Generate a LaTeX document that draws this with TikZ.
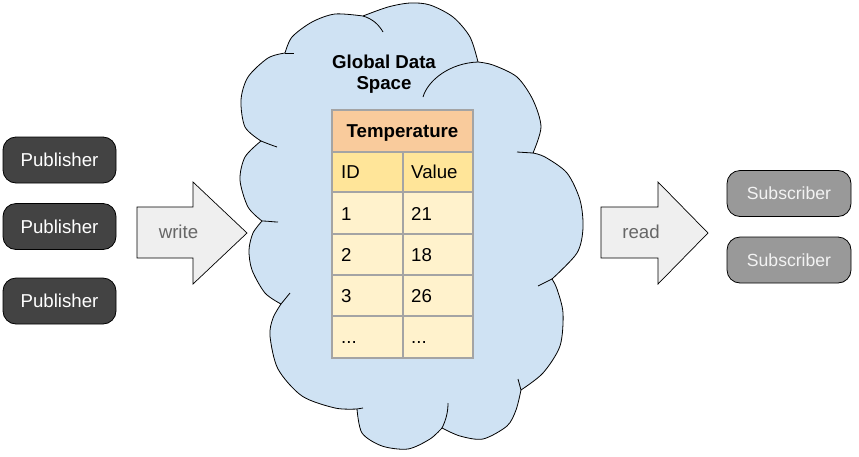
\documentclass[tikz,border=0pt]{standalone}
\usepackage{fontspec}
\setmainfont{Liberation Sans}
\definecolor{pubfill}{HTML}{434343}
\definecolor{subfill}{HTML}{999999}
\definecolor{subtext}{HTML}{F3F3F3}
\definecolor{arrfill}{HTML}{EFEFEF}
\definecolor{arrtext}{HTML}{666666}
\definecolor{cloudfill}{HTML}{CFE2F3}
\definecolor{hdrfill}{HTML}{F9CB9C}
\definecolor{colfill}{HTML}{FFE599}
\definecolor{cellfill}{HTML}{FFF2CC}
\definecolor{gridcol}{HTML}{A4A4A4}
\tikzset{
  pubbox/.style={draw=black, line width=0.8pt, fill=pubfill, rounded corners=13pt,
    minimum width=113pt, minimum height=46pt, inner sep=0pt, text=white,
    font=\fontsize{18.67}{21}\selectfont, text height=13.4pt, text depth=0pt},
  subbox/.style={draw=black, line width=0.8pt, fill=subfill, rounded corners=13pt,
    minimum width=124pt, minimum height=46pt, inner sep=0pt, text=subtext,
    font=\fontsize{17.6}{20}\selectfont, text height=12.6pt, text depth=0pt},
  blockarrow/.style={draw=black, line width=0.7pt, fill=arrfill, line join=miter},
  arrlabel/.style={anchor=base, inner sep=0pt, text=arrtext, font=\fontsize{18.67}{21}\selectfont},
  celltext/.style={anchor=base west, inner sep=0pt, font=\fontsize{18.67}{21}\selectfont},
  cloudline/.style={draw=black, line width=0.8pt},
}
\begin{document}
\begin{tikzpicture}[x=1pt,y=-1pt]
\useasboundingbox (0,0) rectangle (859,456);
\fill[white] (0,0) rectangle (859,456);

% cloud
\path[fill=cloudfill, cloudline, line join=round]
  plot[smooth] coordinates {(285,53) (292,37) (312,22) (335,14) (363,16)}
  -- plot[smooth] coordinates {(363,16) (388,7) (410,3) (430,5) (453,17) (470,37) (478,62)}
  -- plot[smooth] coordinates {(478,62) (493,65) (517,77) (533,100) (541,127) (533,153)}
  -- plot[smooth] coordinates {(533,153) (545,157) (567,173) (580,200) (583,228) (577,253) (552,279)}
  -- plot[smooth] coordinates {(552,279) (557,289) (563,313) (560,346) (543,373) (521,390)}
  -- plot[smooth] coordinates {(521,390) (516,410) (507,426) (483,439) (460,436) (442,428)}
  -- plot[smooth] coordinates {(442,428) (430,439) (408,449) (382,446) (362,433) (357,409)}
  -- plot[smooth] coordinates {(357,409) (335,408) (302,396) (278,369) (270,336) (273,318) (281,304)}
  -- plot[smooth] coordinates {(281,304) (265,293) (252,270) (249,250) (253,233) (262,221)}
  -- plot[smooth] coordinates {(262,221) (248,207) (240,180) (245,157) (261,141)}
  -- plot[smooth] coordinates {(261,141) (245,127) (241,100) (248,77) (268,58) (285,53)}
  -- cycle;
% lobe tails
\draw[cloudline] (285,53) -- (294,53);
\draw[cloudline] (363,16) .. controls (373,19) and (379,25) .. (383,32);
\draw[cloudline] (423,97) .. controls (428,80) and (450,63) .. (478,62);
\draw[cloudline] (517,152) -- (533,153);
\draw[cloudline] (552,279) -- (538,286);
\draw[cloudline] (518,379) -- (521,390);
\draw[cloudline] (448,403) .. controls (448,412) and (446,420) .. (442,428);
\draw[cloudline] (357,409) -- (363,408);
\draw[cloudline] (281,304) -- (290,293);
\draw[cloudline] (262,221) .. controls (268,221) and (273,222) .. (278,222);
\draw[cloudline] (261,141) .. controls (266,143) and (271,145) .. (277,147);

\node[anchor=base, inner sep=0pt, align=center, font=\fontsize{18.67}{21}\selectfont\bfseries] (gds) at (384,89.3) {Global Data\\Space};

% table
\fill[hdrfill] (332,110) rectangle (473,152);
\fill[colfill] (332,152) rectangle (473,192);
\fill[cellfill] (332,192) rectangle (473,358);
\draw[gridcol, line width=1.4pt]
  (332,110) rectangle (473,358)
  (332,152) -- (473,152)
  (332,192) -- (473,192)
  (332,234) -- (473,234)
  (332,275) -- (473,275)
  (332,316) -- (473,316)
  (403,152) -- (403,358);
\node[anchor=base, inner sep=0pt, font=\fontsize{18.67}{21}\selectfont\bfseries] (temp) at (402.5,137) {Temperature};
\node[celltext] (hid) at (341,178.7) {ID};
\node[celltext] (hval) at (411,178.7) {Value};
\node[celltext] (id1) at (341,220) {1};
\node[celltext] (v1) at (411,220) {21};
\node[celltext] (id2) at (341,261) {2};
\node[celltext] (v2) at (411,261) {18};
\node[celltext] (id3) at (341,302) {3};
\node[celltext] (v3) at (411,302) {26};
\node[celltext] (id4) at (341,343.5) {...};
\node[celltext] (v4) at (411,343.5) {...};

% publishers
\node[pubbox] (p1) at (59.5,160) {Publisher};
\node[pubbox] (p2) at (59.5,226.5) {Publisher};
\node[pubbox] (p3) at (59.5,301) {Publisher};

% subscribers
\node[subbox] (s1) at (789,193.5) {Subscriber};
\node[subbox] (s2) at (789,260) {Subscriber};

% write arrow
\coordinate (wtip) at (247,233);
\draw[blockarrow] (137,207) -- (193,207) -- (193,182) -- (wtip) -- (193,284) -- (193,258) -- (137,258) -- cycle;
\node[arrlabel] (wlab) at (178.5,238.5) {write};

% read arrow
\coordinate (rtip) at (708,233);
\draw[blockarrow] (601,207) -- (658,207) -- (658,182) -- (rtip) -- (658,284) -- (658,258) -- (601,258) -- cycle;
\node[arrlabel] (rlab) at (641,238.5) {read};
\end{tikzpicture}
\end{document}
